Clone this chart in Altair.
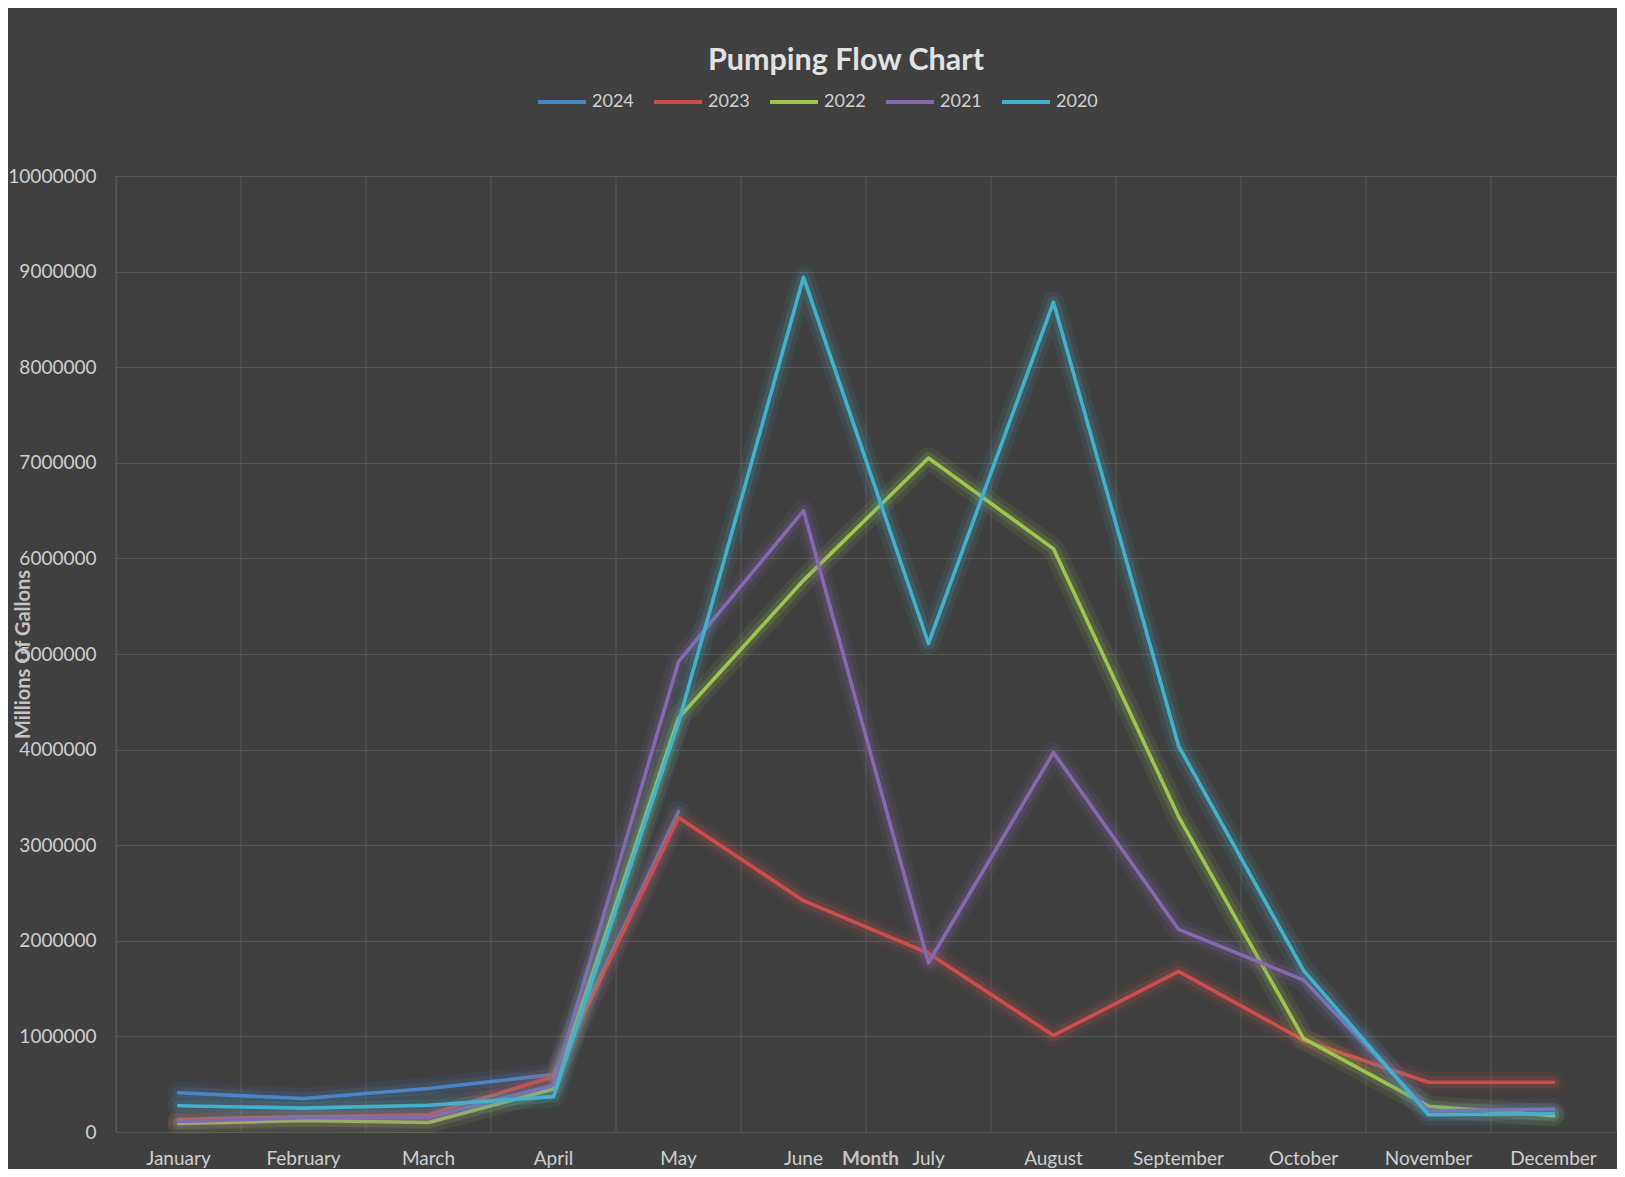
import altair as alt
import pandas as pd

months = ["January", "February", "March", "April", "May", "June", "July",
          "August", "September", "October", "November", "December"]
years = ["2024", "2023", "2022", "2021", "2020"]
colors = ["#4a84c4", "#cc4e4a", "#9fc550", "#8468b0", "#45b0cc"]

v2024 = [410000, 350000, 455000, 600000, 3350000, None, None, None, None, None, None, None]
v2023 = [130000, 160000, 180000, 580000, 3290000, 2420000, 1870000, 1010000, 1680000, 960000, 520000, 520000]
v2022 = [90000, 120000, 100000, 450000, 4330000, 5770000, 7050000, 6100000, 3300000, 980000, 270000, 170000]
v2021 = [110000, 150000, 150000, 490000, 4920000, 6500000, 1770000, 3970000, 2120000, 1590000, 220000, 240000]
v2020 = [275000, 250000, 280000, 370000, 4280000, 8940000, 5110000, 8680000, 4040000, 1690000, 180000, 190000]
y_ticks = [0, 1000000, 2000000, 3000000, 4000000, 5000000, 6000000, 7000000, 8000000, 9000000, 10000000]

series = {"2024": v2024, "2023": v2023, "2022": v2022, "2021": v2021, "2020": v2020}
rows = []
for yr, vals in series.items():
    for m, v in zip(months, vals):
        if v is not None:
            rows.append({"month": m, "year": yr, "value": v})
df = pd.DataFrame(rows)
df_m = pd.DataFrame({"month": months})

FONT = "Lato"
GRID = "#585858"
W, H = 1500, 956

xscale = alt.Scale(type="band", paddingInner=0, paddingOuter=0, domain=months)

X = alt.X("month:N", sort=months, scale=xscale, bandPosition=0.5,
          axis=alt.Axis(title="Month", grid=False, ticks=False, domain=False, bandPosition=0.5,
                        labelAngle=0, labelAlign="center", labelBaseline="top",
                        labelFontSize=19, labelFont=FONT, labelColor="#cfcfcf",
                        labelPadding=17, titleFontSize=19, titleFont=FONT, titleFontWeight="bold",
                        titleColor="#c4c4c4", titleX=754, titleY=26, titleBaseline="middle",
                        titleAlign="center"))
Y = alt.Y("value:Q", scale=alt.Scale(domain=[0, 10000000], nice=False),
          axis=alt.Axis(values=y_ticks, format="d", title="Millions Of Gallons",
                        grid=True, gridColor=GRID, gridWidth=1, ticks=False, domain=False,
                        labelFontSize=19, labelFont=FONT, labelColor="#cfcfcf", labelPadding=20,
                        titleFontSize=20, titleFont=FONT, titleFontWeight="bold",
                        titleColor="#c4c4c4", titleX=-93, titleY=478, titleBaseline="middle"))
C = alt.Color("year:N", scale=alt.Scale(domain=years, range=colors),
              legend=alt.Legend(title=None, orient="none", direction="horizontal",
                                legendX=420, legendY=-100, symbolType="stroke",
                                symbolSize=2304, symbolStrokeWidth=4, symbolOpacity=1,
                                labelFontSize=18, labelFont=FONT, labelColor="#d0d0d0",
                                labelOffset=4, columnPadding=12))

grid = alt.Chart(df_m).mark_rule(color=GRID, strokeWidth=1).encode(
    x=alt.X("month:N", sort=months, scale=xscale, bandPosition=0)
)

layers = [grid]
base = alt.Chart(df).encode(x=X, y=Y, color=C)
for yr in years:
    f = base.transform_filter(alt.datum.year == yr)
    layers.append(f.mark_line(strokeWidth=22, opacity=0.09, strokeCap="round", strokeJoin="round"))
    layers.append(f.mark_line(strokeWidth=12, opacity=0.16, strokeCap="round", strokeJoin="round"))
    layers.append(f.mark_line(strokeWidth=3.6, opacity=1, strokeCap="round", strokeJoin="round"))

chart = alt.layer(*layers).properties(
    width=W, height=H, background="#404040",
    padding={"left": 108, "top": 168, "right": 1, "bottom": 37},
    autosize=alt.AutoSizeParams(type="none"),
    title=alt.TitleParams("Pumping Flow Chart", fontSize=30.5, font=FONT, fontWeight="bold",
                          color="#e2e2e2", anchor="middle", dx=-20, offset=0),
).configure_view(stroke=GRID, strokeWidth=1)

chart.save("out.html", embed_options={"renderer": "svg", "actions": False})
